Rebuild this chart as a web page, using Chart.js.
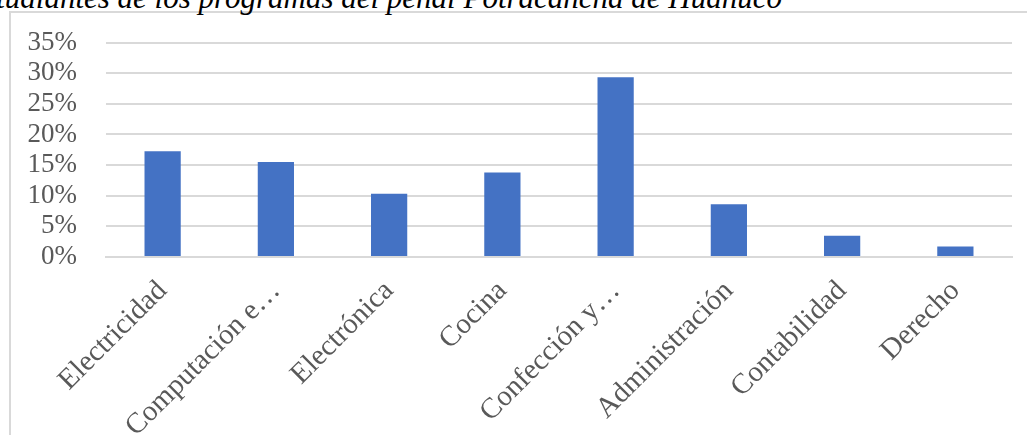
<!DOCTYPE html>
<html>
<head>
<meta charset="utf-8">
<script src="https://cdn.jsdelivr.net/npm/chart.js@4/dist/chart.umd.min.js"></script>
<style>
  html, body { margin: 0; padding: 0; background: #fff; overflow: hidden; }
  body { width: 1027px; height: 435px; position: relative; }
  #title {
    position: absolute; right: 245px; top: -18px; white-space: nowrap;
    font: italic 31px/1 "Liberation Serif", "Times New Roman", serif; color: #000;
  }
  #frame {
    position: absolute; left: 9px; top: 11px; width: 1100px; height: 500px;
    border-left: 2px solid #d9d9d9; border-top: 2px solid #d9d9d9;
  }
  #wrap { position: absolute; left: 0; top: 0; width: 1027px; height: 435px; }
</style>
</head>
<body>
<div id="frame"></div>
<div id="title">Figura 1. Porcentaje de estudiantes de los programas del penal Potracancha de Huánuco</div>
<div id="wrap"><canvas id="chart"></canvas></div>
<script>
// data
const categories = ['Electricidad', 'Computación e…', 'Electrónica', 'Cocina', 'Confección y…', 'Administración', 'Contabilidad', 'Derecho']
const percentages = [17.24, 15.52, 10.34, 13.79, 29.31, 8.62, 3.45, 1.72]
const yTicks = [0, 5, 10, 15, 20, 25, 30, 35]

const textColor = '#595959'
const gridColor = '#d9d9d9'

/* eslint-disable no-magic-numbers, no-new */
new Chart(document.getElementById('chart'), {
  type: 'bar',
  data: {
    labels: categories,
    datasets: [{
      data: percentages,
      backgroundColor: '#4472c4',
      borderWidth: 0,
      categoryPercentage: 1,
      barPercentage: 0.32
    }]
  },
  options: {
    responsive: true,
    maintainAspectRatio: false,
    animation: false,
    layout: { padding: { top: 41, right: 15, left: 0, bottom: 0 } },
    plugins: {
      legend: { display: false },
      tooltip: { enabled: false }
    },
    scales: {
      x: {
        grid: { display: false },
        border: { color: gridColor, width: 2 },
        ticks: {
          color: textColor,
          font: { family: 'Liberation Serif', size: 29, lineHeight: 1 },
          autoSkip: false,
          minRotation: 45,
          maxRotation: 45,
          padding: 11
        },
        afterFit: (axis) => { axis.height = 435 - 257 }
      },
      y: {
        min: 0,
        max: 35,
        grid: { color: gridColor, lineWidth: 2, drawTicks: false },
        border: { display: false },
        afterBuildTicks: (axis) => { axis.ticks = yTicks.map((v) => ({ value: v })) },
        ticks: {
          color: textColor,
          font: { family: 'Liberation Serif', size: 27, lineHeight: 1 },
          autoSkip: false,
          padding: 29,
          callback: (v) => v + '%'
        },
        afterFit: (axis) => { axis.width = 106 }
      }
    }
  }
})
/* eslint-enable no-magic-numbers, no-new */
</script>
</body>
</html>
